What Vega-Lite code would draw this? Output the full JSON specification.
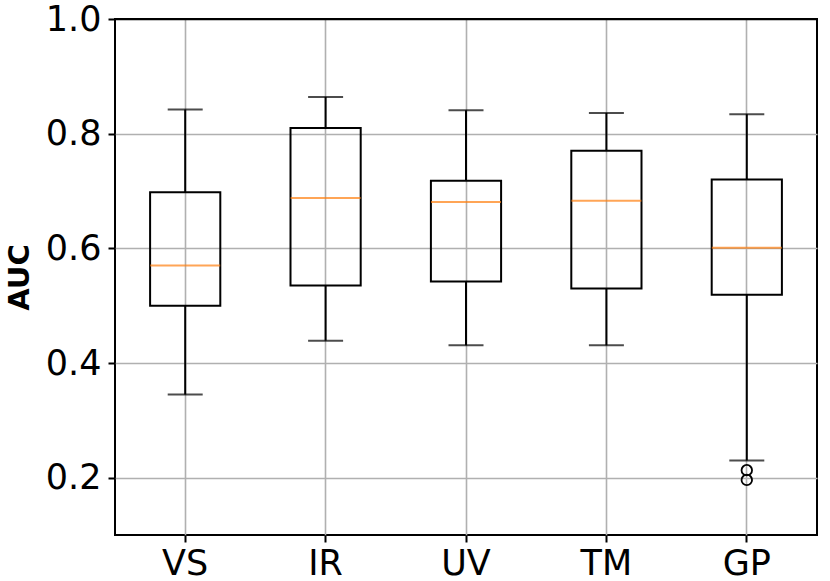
{
  "$schema": "https://vega.github.io/schema/vega-lite/v6.json",
  "width": 702,
  "height": 516,
  "autosize": {"type": "none"},
  "padding": {"left": 115, "top": 19, "right": 13, "bottom": 46},
  "background": "white",
  "config": {
    "font": "DejaVu Sans",
    "view": {"stroke": "black", "strokeWidth": 2},
    "axis": {
      "labelFont": "DejaVu Sans",
      "labelFontSize": 35,
      "labelColor": "black",
      "tickColor": "black",
      "tickWidth": 2,
      "tickSize": 7,
      "labelPadding": 6,
      "domain": false,
      "grid": true,
      "gridColor": "#b0b0b0",
      "gridWidth": 1.6,
      "titleFont": "DejaVu Sans",
      "titleColor": "black"
    }
  },
  "datasets": {
    "stats": [
      {"group": "VS", "lo": 0.345, "q1": 0.500, "med": 0.570, "q3": 0.698, "hi": 0.842},
      {"group": "IR", "lo": 0.439, "q1": 0.535, "med": 0.688, "q3": 0.810, "hi": 0.864},
      {"group": "UV", "lo": 0.431, "q1": 0.542, "med": 0.681, "q3": 0.718, "hi": 0.841},
      {"group": "TM", "lo": 0.431, "q1": 0.530, "med": 0.683, "q3": 0.770, "hi": 0.836},
      {"group": "GP", "lo": 0.230, "q1": 0.519, "med": 0.601, "q3": 0.720, "hi": 0.834}
    ],
    "outliers": [
      {"group": "GP", "value": 0.213},
      {"group": "GP", "value": 0.196}
    ]
  },
  "encoding": {
    "x": {
      "field": "group",
      "type": "nominal",
      "sort": ["VS", "IR", "UV", "TM", "GP"],
      "scale": {"paddingInner": 0, "paddingOuter": 0},
      "axis": {"title": null, "labelAngle": 0, "labelPadding": 4}
    }
  },
  "layer": [
    {
      "data": {"name": "stats"},
      "mark": {"type": "rule", "color": "black", "strokeWidth": 2},
      "encoding": {
        "y": {
          "field": "lo",
          "type": "quantitative",
          "scale": {"domain": [0.1, 1.0], "nice": false, "zero": false},
          "axis": {
            "title": "AUC",
            "titleFontSize": 29,
            "titleFontWeight": "bold",
            "titlePadding": 11,
            "values": [0.2, 0.4, 0.6, 0.8, 1.0],
            "format": ".1f",
            "labelPadding": 7,
            "gridColor": {"condition": {"test": "datum.value >= 0.999", "value": "black"}, "value": "#b0b0b0"}
          }
        },
        "y2": {"field": "q1"}
      }
    },
    {
      "data": {"name": "stats"},
      "mark": {"type": "rule", "color": "black", "strokeWidth": 2},
      "encoding": {
        "y": {"field": "q3", "type": "quantitative"},
        "y2": {"field": "hi"}
      }
    },
    {
      "data": {"name": "stats"},
      "mark": {"type": "bar", "fill": null, "fillOpacity": 0, "stroke": "black", "strokeWidth": 2, "width": {"band": 0.5}},
      "encoding": {
        "y": {"field": "q1", "type": "quantitative"},
        "y2": {"field": "q3"}
      }
    },
    {
      "data": {"name": "stats"},
      "mark": {"type": "tick", "color": "#ff7f0e", "thickness": 2, "size": 70, "orient": "horizontal"},
      "encoding": {
        "y": {"field": "med", "type": "quantitative"}
      }
    },
    {
      "data": {"name": "stats"},
      "mark": {"type": "tick", "color": "black", "thickness": 2, "size": 35, "orient": "horizontal"},
      "encoding": {
        "y": {"field": "lo", "type": "quantitative"}
      }
    },
    {
      "data": {"name": "stats"},
      "mark": {"type": "tick", "color": "black", "thickness": 2, "size": 35, "orient": "horizontal"},
      "encoding": {
        "y": {"field": "hi", "type": "quantitative"}
      }
    },
    {
      "data": {"name": "outliers"},
      "mark": {"type": "point", "shape": "circle", "filled": false, "stroke": "black", "strokeWidth": 1.8, "size": 110, "opacity": 1},
      "encoding": {
        "y": {"field": "value", "type": "quantitative"}
      }
    }
  ]
}
